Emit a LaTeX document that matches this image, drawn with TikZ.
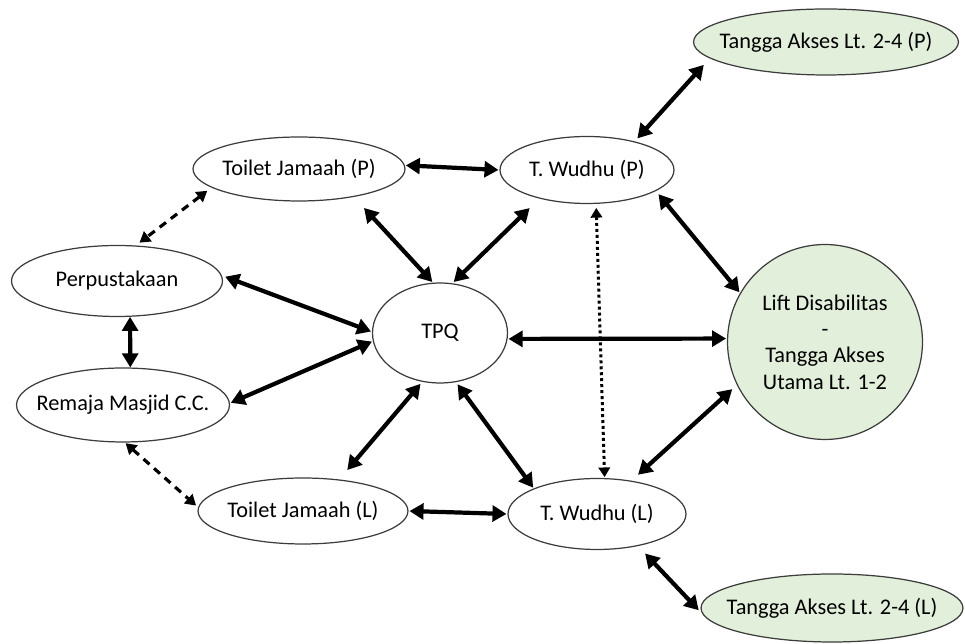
\documentclass[tikz,border=0pt]{standalone}
\usepackage{fontspec}
\setmainfont{Carlito}
\usetikzlibrary{shapes.geometric}
\usetikzlibrary{arrows.meta}
\definecolor{green1}{RGB}{226, 239, 218}
\definecolor{gray1}{RGB}{60, 60, 60}

\begin{document}
\begin{tikzpicture}[x=0.02cm, y=-0.02cm,
  place/.style={ellipse, draw=gray1, line width=0.7pt, inner xsep=-10pt, inner ysep=0pt,
    font=\fontsize{12.7}{15}\selectfont},
  greenplace/.style={place, fill=green1},
  biarrow/.style={line width=2.4pt, {Triangle[length=8pt,width=9pt]}-{Triangle[length=8pt,width=9pt]}},
  dasharrow/.style={line width=1.8pt, dash pattern=on 4.5pt off 3.5pt,
    {Triangle[length=6pt,width=7pt]}-{Triangle[length=6pt,width=7pt]}},
  dotarrow/.style={line width=1.7pt, dash pattern=on 1.7pt off 1.7pt,
    {Triangle[length=5.5pt,width=6.5pt]}-{Triangle[length=5.5pt,width=6.5pt]}}]
  \useasboundingbox (0,0) rectangle (965,644);

  \node[place, minimum width=4.24cm, minimum height=1.28cm] (tjp) at (299,169) {Toilet Jamaah (P)};
  \node[place, minimum width=3.48cm, minimum height=1.34cm] (twp) at (587,170) {T. Wudhu (P)};
  \node[place, minimum width=4.22cm, minimum height=1.42cm] (perpus) at (117,281) {Perpustakaan};
  \node[place, minimum width=4.26cm, minimum height=1.48cm] (remaja) at (123,405) {Remaja Masjid C.C.};
  \node[place, minimum width=2.7cm, minimum height=2cm] (tpq) at (440,333) {TPQ};
  \node[place, minimum width=4.2cm, minimum height=1.32cm] (tjl) at (303,511) {Toilet Jamaah (L)};
  \node[place, minimum width=3.56cm, minimum height=1.42cm] (twl) at (597,514) {T. Wudhu (L)};

  \node[greenplace, circle, inner sep=0pt, minimum size=3.9cm, align=center] (lift) at (825,342)
    {Lift Disabilitas\\-\\Tangga Akses\\Utama Lt. 1-2};
  \node[greenplace, minimum width=5.3cm, minimum height=1.32cm] (tap) at (826,42) {Tangga Akses Lt. 2-4 (P)};
  \node[greenplace, minimum width=5.24cm, minimum height=1.36cm] (tal) at (832,608) {Tangga Akses Lt. 2-4 (L)};

  \foreach \from/\to/\sa/\sb in {tjp.2/twp.180/0.5/0.5, tjp.-27/tpq.98/8.5/0.5,
      twp.211/tpq.76/7.7/1, perpus.3/tpq.179/2/0.5, remaja.1/tpq.187/0.5/0.5,
      perpus.-70/remaja.79/0/0, tpq.250/tjl.41/1.5/7, tpq.-72/twl.158/1.5/0.5,
      tjl.0/twl.180/0.5/0.5, tpq.-5/lift.178/0.5/0.5, twp.-17/lift.150/2.3/0.5,
      twl.44/lift.206/5/3.5, twp.31/tap.188/2.3/5, twl.-38/tal.183/5.8/3.5}
   \draw[biarrow, shorten <=\sa pt, shorten >=\sb pt] (\from) -- (\to);

  \draw[dasharrow, shorten <=3pt, shorten >=2.6pt] (tjp.192) -- (perpus.62);
  \draw[dasharrow, shorten <=0.5pt, shorten >=1.5pt] (remaja.-87) -- (tjl.178);
  \draw[dotarrow, shorten <=2.3pt, shorten >=0.5pt] (twp.-75) -- (twl.78);
\end{tikzpicture}
\end{document}
